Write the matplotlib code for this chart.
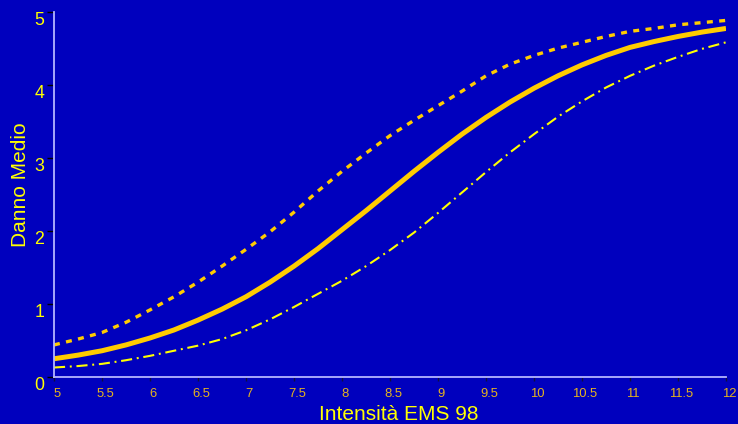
import matplotlib
matplotlib.use("Agg")
import matplotlib.pyplot as plt
from matplotlib.transforms import ScaledTranslation

# Macroseismic intensity (EMS-98) and mean damage grade curves
intensity = [5, 5.25, 5.5, 5.75, 6, 6.25, 6.5, 6.75, 7, 7.25, 7.5, 7.75,
             8, 8.25, 8.5, 8.75, 9, 9.25, 9.5, 9.75, 10, 10.25, 10.5, 10.75,
             11, 11.25, 11.5, 11.75, 12]
damage_mean = [0.25, 0.30, 0.36, 0.44, 0.535, 0.645, 0.78, 0.93, 1.10, 1.30,
               1.52, 1.76, 2.02, 2.28, 2.55, 2.82, 3.08, 3.33, 3.56, 3.77,
               3.96, 4.13, 4.28, 4.41, 4.52, 4.60, 4.67, 4.73, 4.78]
damage_upper = [0.44, 0.52, 0.61, 0.75, 0.92, 1.10, 1.30, 1.52, 1.75, 1.99,
                2.26, 2.55, 2.82, 3.07, 3.31, 3.52, 3.72, 3.92, 4.13, 4.29,
                4.41, 4.51, 4.59, 4.67, 4.74, 4.78, 4.83, 4.86, 4.89]
damage_lower = [0.13, 0.15, 0.18, 0.23, 0.29, 0.36, 0.43, 0.52, 0.64, 0.79,
                0.96, 1.14, 1.32, 1.52, 1.74, 1.98, 2.25, 2.53, 2.81, 3.08,
                3.33, 3.57, 3.78, 3.97, 4.13, 4.27, 4.39, 4.50, 4.59]

x_ticks = [5, 5.5, 6, 6.5, 7, 7.5, 8, 8.5, 9, 9.5, 10, 10.5, 11, 11.5, 12]
x_tick_labels = ["5", "5.5", "6", "6.5", "7", "7.5", "8", "8.5", "9", "9.5",
                 "10", "10.5", "11", "11.5", "12"]
y_ticks = [0, 1, 2, 3, 4, 5]

BG = "#0000BE"
GOLD = "#FFCC00"
YELLOW = "#FFFF00"
TICK_GOLD = "#E6B41E"
AXIS_LINE = "#B4B4FF"

plt.rcParams["font.family"] = ["Liberation Sans", "DejaVu Sans"]
plt.rcParams["lines.scale_dashes"] = False

fig = plt.figure(figsize=(7.38, 4.24), dpi=100, facecolor=BG)
ax = fig.add_axes([54 / 738, 1 - 377 / 424, 672 / 738, (377 - 12.4) / 424])
ax.set_facecolor(BG)

ax.plot(intensity, damage_upper, color=GOLD, lw=2.4, dashes=(4.3, 4.6),
        dash_capstyle="butt")
ax.plot(intensity, damage_lower, color=YELLOW, lw=1.5,
        dashes=(8.0, 3.4, 1.4, 3.4), dash_capstyle="butt")
ax.plot(intensity, damage_mean, color=GOLD, lw=3.6, solid_capstyle="butt")

ax.set_xlim(5, 12)
ax.set_ylim(0, 5)

for side in ("top", "right"):
    ax.spines[side].set_visible(False)
for side in ("left", "bottom"):
    ax.spines[side].set_color(AXIS_LINE)
    ax.spines[side].set_linewidth(1.3)

ax.set_xticks(x_ticks)
ax.set_xticklabels(x_tick_labels)
ax.set_yticks(y_ticks)
ax.tick_params(axis="x", direction="out", length=3, width=1, color="#101040",
               labelsize=9.4, labelcolor=TICK_GOLD, pad=5)
ax.tick_params(axis="y", direction="out", length=5, width=1, color="black",
               labelsize=12.8, labelcolor=YELLOW, pad=2)
for lab in ax.get_yticklabels():
    lab.set_verticalalignment("top")
shift = ScaledTranslation(3 / 100, 0, fig.dpi_scale_trans)
for lab in ax.get_xticklabels():
    lab.set_transform(lab.get_transform() + shift)

fig.text(21 / 738, 1 - 185 / 424, "Danno Medio", rotation=90, color=YELLOW,
         fontsize=15, ha="center", va="center")
fig.text(398.5 / 738, 1 - 420 / 424, "Intensità EMS 98", color=YELLOW,
         fontsize=15, ha="center", va="baseline")

fig.savefig("out.png", dpi=100, facecolor=BG)
